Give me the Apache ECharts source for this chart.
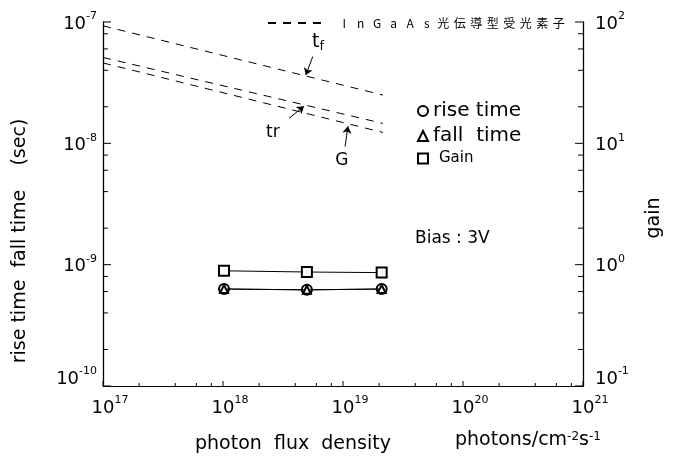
<!DOCTYPE html>
<html><head><meta charset="utf-8">
<script src="https://cdn.jsdelivr.net/npm/echarts@6/dist/echarts.min.js"></script>
<style>html,body{margin:0;padding:0;background:#fff}#c{width:684px;height:467px}</style>
</head><body><div id="c"></div>
<script>
// ---- data ----
const fluxDashed = [1e17, 2.15e19];          // photons/cm^2 s
const tfDashed   = [9.3e-8, 2.5e-8];          // sec (left axis)
const trDashed   = [5.1e-8, 1.46e-8];         // sec (left axis)
const gDashed    = [46, 12.3];                // gain (right axis)
const fluxMeas   = [1.02e18, 5.0e18, 2.1e19];
const riseTime   = [6.3e-10, 6.2e-10, 6.3e-10];
const fallTime   = [6.3e-10, 6.2e-10, 6.3e-10];
const gainMeas   = [0.89, 0.87, 0.86];
const xDecades   = [17, 18, 19, 20, 21];
const yDecadesL  = [-10, -9, -8, -7];
const yDecadesR  = [-1, 0, 1, 2];
const minorMant  = [2, 4, 6, 8];
const refName    = 'InGaAs光伝導型受光素子';
// annotations (data coords)
const tfLabelAt = [6.2e18, 6.8e-8], tfArrow = [[5.6e18, 5.2e-8], [4.9e18, 3.65e-8]];
const trLabelAt = [2.6e18, 1.23e-8], trArrow = [[3.55e18, 1.61e-8], [4.73e18, 2.02e-8]];
const gLabelAt  = [9.8e18, 7.2],     gArrow  = [[1.04e19, 9.4], [1.1e19, 13.8]];

const FONT = 'DejaVu Sans';
const zip = (a, b) => a.map((v, i) => [v, b[i]]);
function minors(decs) {
  const out = [];
  for (let i = 0; i < decs.length - 1; i++) minorMant.forEach(m => out.push(m * Math.pow(10, decs[i])));
  return out;
}
const exp = v => Math.round(Math.log10(v));
const supRich = {
  b: { fontSize: 18, fontFamily: FONT, color: '#000', lineHeight: 22, verticalAlign: 'bottom' },
  s: { fontSize: 11, fontFamily: FONT, color: '#000', verticalAlign: 'top', lineHeight: 12 },
  e: { lineHeight: 18, fontSize: 1 }
};
const supFmt = v => '{b|10}{s|' + exp(v) + '}';
// lowest label of each y axis sits above the corner
const supFmtY = lowest => v => supFmt(v) + (exp(v) === lowest ? '\n{e| }' : '');

function tickSeries(name, data, dx, dy, yIdx) {
  return {
    type: 'custom', name, yAxisIndex: yIdx, silent: true, clip: false, z: 5,
    data,
    renderItem: (params, api) => {
      const p = api.coord([api.value(0), api.value(1)]);
      const len = api.value(2);
      return { type: 'line', shape: { x1: p[0], y1: p[1], x2: p[0] + dx * len, y2: p[1] + dy * len },
               style: { stroke: '#000', lineWidth: 1 } };
    }
  };
}
const leftTicks = [
  ...yDecadesL.map(d => [1e17, Math.pow(10, d), 8]),
  ...minors(yDecadesL).map(v => [1e17, v, 5])];
const rightTicks = [
  ...yDecadesR.map(d => [1e21, Math.pow(10, d), 8]),
  ...minors(yDecadesR).map(v => [1e21, v, 5])];
const bottomTicks = [
  ...xDecades.map(d => [Math.pow(10, d), 1e-10, 5]),
  ...minors(xDecades).map(v => [v, 1e-10, 3])];

const dash = { type: [8, 7], width: 1, color: '#000' };
const arrowLine = (pair) => ({
  symbol: ['none', 'arrow'], symbolSize: 7, silent: true, animation: false,
  lineStyle: { type: 'solid', color: '#000', width: 1 }, label: { show: false },
  data: [[{ coord: pair[0] }, { coord: pair[1] }]]
});
const txtPoint = (at, fmt, rich) => ({
  symbol: 'circle', symbolSize: 1, itemStyle: { color: 'rgba(0,0,0,0)' }, silent: true, animation: false,
  label: { show: true, position: 'inside', formatter: fmt, color: '#000', fontFamily: FONT, fontSize: 17, rich },
  data: [{ coord: at }]
});

const chart = echarts.init(document.getElementById('c'), null, { renderer: 'canvas' });
chart.setOption({
  animation: false,
  backgroundColor: '#fff',
  grid: { left: 103, right: 101, top: 22, bottom: 81 },
  xAxis: {
    type: 'log', min: 1e17, max: 1e21, logBase: 10,
    axisLine: { lineStyle: { color: '#000', width: 1 } },
    axisTick: { show: false }, splitLine: { show: false }, minorTick: { show: false },
    axisLabel: { formatter: supFmt, rich: supRich, margin: 9, padding: [0, 0, 0, 14] }
  },
  yAxis: [{
    type: 'log', min: 1e-10, max: 1e-7, logBase: 10, position: 'left',
    axisLine: { show: true, lineStyle: { color: '#000', width: 1.3 } },
    axisTick: { show: false }, splitLine: { show: false },
    axisLabel: { formatter: supFmtY(-10), rich: supRich, margin: 6 }
  }, {
    type: 'log', min: 0.1, max: 100, logBase: 10, position: 'right',
    axisLine: { show: true, lineStyle: { color: '#000', width: 1.3 } },
    axisTick: { show: false }, splitLine: { show: false },
    axisLabel: { formatter: supFmtY(-1), rich: supRich, margin: 12 }
  }],
  legend: [{
    orient: 'vertical', left: 412, top: 96, itemWidth: 10, itemHeight: 10, itemGap: 5,
    selectedMode: false, itemStyle: { color: '#000' },
    textStyle: { color: '#000', fontFamily: FONT, fontSize: 20 },
    data: [
      { name: 'rise time', icon: 'emptyCircle' },
      { name: 'fall  time', icon: 'emptyTriangle' },
      { name: 'Gain', icon: 'emptyRect', textStyle: { fontSize: 15, padding: [0, 0, 0, 6] } }
    ]
  }, {
    orient: 'horizontal', left: 262, top: 12, itemWidth: 55, itemHeight: 10, itemGap: 4, selectedMode: false,
    itemStyle: { opacity: 0 },
    formatter: n => '{g|}' + n.split('').map(c => '{c|' + c + '}').join(''),
    textStyle: { color: '#000', fontFamily: '"Noto Sans CJK JP"', fontSize: 12,
      rich: { g: { width: 8 }, c: { width: 16.5, align: 'center', fontSize: 12, fontFamily: '"Noto Sans CJK JP"', color: '#000' } } },
    data: [{ name: refName }]
  }],
  series: [
    { name: refName, type: 'line', symbol: 'none', data: zip(fluxDashed, tfDashed), lineStyle: dash,
      itemStyle: { color: '#000' },
      markLine: arrowLine(tfArrow),
      markPoint: txtPoint(tfLabelAt, '{t|t}{f|f}', { t: { fontSize: 19, fontFamily: FONT, color: '#000' }, f: { fontSize: 13, fontFamily: FONT, color: '#000', verticalAlign: 'bottom', padding: [8, 0, 0, 0] } }) },
    { name: 'tr', type: 'line', symbol: 'none', data: zip(fluxDashed, trDashed), lineStyle: dash,
      itemStyle: { color: '#000' },
      markLine: arrowLine(trArrow),
      markPoint: txtPoint(trLabelAt, 'tr') },
    { name: 'G', type: 'line', symbol: 'none', yAxisIndex: 1, data: zip(fluxDashed, gDashed), lineStyle: dash,
      itemStyle: { color: '#000' },
      markLine: arrowLine(gArrow),
      markPoint: txtPoint(gLabelAt, 'G') },
    { name: 'rise time', type: 'line', data: zip(fluxMeas, riseTime), symbol: 'emptyCircle', symbolSize: 10,
      itemStyle: { color: '#000', borderWidth: 2 }, lineStyle: { color: '#000', width: 1 }, z: 3 },
    { name: 'fall  time', type: 'line', data: zip(fluxMeas, fallTime), symbol: 'emptyTriangle', symbolSize: 8,
      itemStyle: { color: '#000', borderWidth: 1.2 }, lineStyle: { color: '#000', width: 1 }, z: 4 },
    { name: 'Gain', type: 'line', yAxisIndex: 1, data: zip(fluxMeas, gainMeas), symbol: 'emptyRect', symbolSize: 10,
      itemStyle: { color: '#000', borderWidth: 1.5 }, lineStyle: { color: '#000', width: 1 }, z: 3 },
    tickSeries('ticksL', leftTicks, 1, 0, 0),
    tickSeries('ticksR', rightTicks, -1, 0, 1),
    tickSeries('ticksB', bottomTicks, 0, -1, 0)
  ],
  graphic: [
    { type: 'text', left: 415, top: 230, style: { text: 'Bias : 3V', font: '17px "DejaVu Sans"', fill: '#000' } },
    { type: 'text', x: 20, y: 241, rotation: Math.PI / 2,
      style: { text: 'rise time  fall time    (sec)', font: '19px "DejaVu Sans"', fill: '#000', align: 'center', verticalAlign: 'middle' } },
    { type: 'text', x: 654, y: 218, rotation: Math.PI / 2,
      style: { text: 'gain', font: '19px "DejaVu Sans"', fill: '#000', align: 'center', verticalAlign: 'middle' } },
    { type: 'text', left: 195, top: 435, style: { text: 'photon  flux  density', font: '19px "DejaVu Sans"', fill: '#000' } },
    { type: 'text', left: 455, top: 431, style: {
        text: 'photons/cm{s|-2}s{s|-1}', font: '19px "DejaVu Sans"', fill: '#000',
        rich: { s: { fontSize: 12, fontFamily: FONT, verticalAlign: 'top', fill: '#000' } } } }
  ]
});
</script></body></html>
